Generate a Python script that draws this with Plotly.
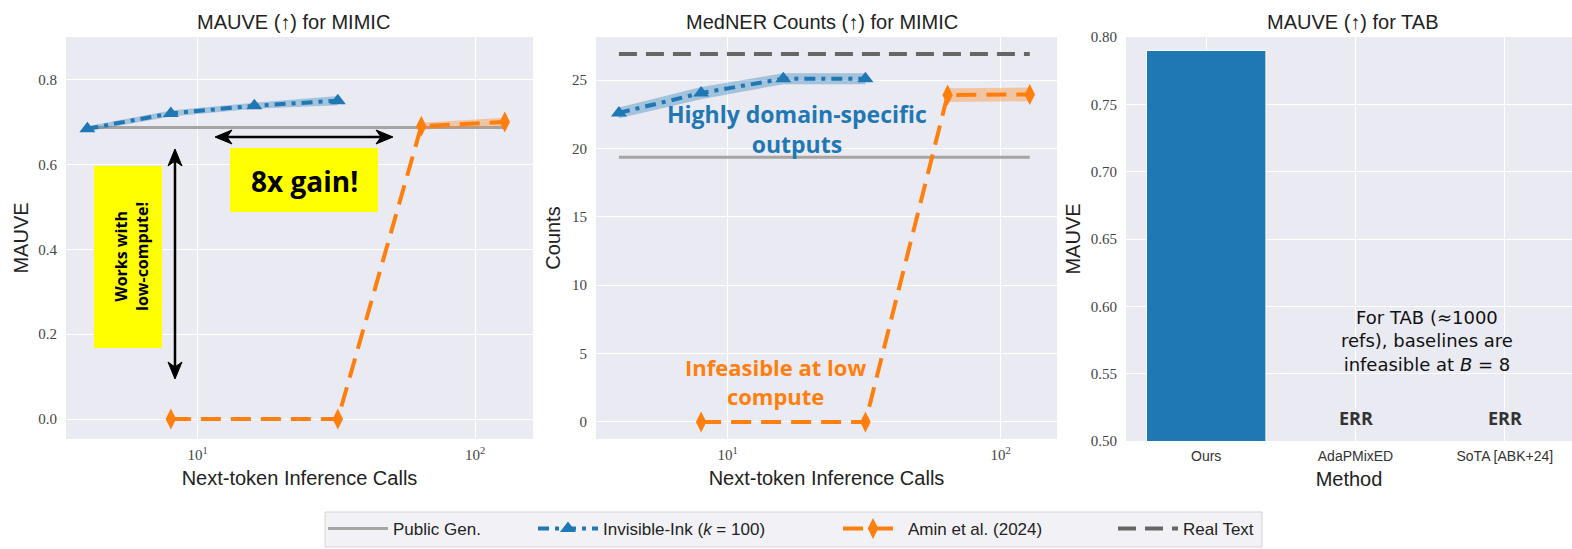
import plotly.graph_objects as go

# ---------------- data ----------------
x_inv = [4, 8, 16, 32]
x_amin = [8, 32, 64, 128]
x_public = [4, 128]

mauve_inv = [0.684, 0.720, 0.738, 0.750]
mauve_inv_lo = [0.678, 0.713, 0.731, 0.739]
mauve_inv_hi = [0.690, 0.727, 0.745, 0.761]
mauve_amin = [0.0, 0.0, 0.690, 0.700]
mauve_amin_lo = [0.0, 0.0, 0.682, 0.690]
mauve_amin_hi = [0.0, 0.0, 0.698, 0.710]
mauve_public = [0.687, 0.687]

counts_inv = [22.6, 24.05, 25.1, 25.1]
counts_inv_lo = [22.2, 23.6, 24.7, 24.7]
counts_inv_hi = [23.0, 24.5, 25.5, 25.5]
counts_amin = [0.0, 0.0, 23.9, 23.95]
counts_amin_lo = [0.0, 0.0, 23.4, 23.45]
counts_amin_hi = [0.0, 0.0, 24.4, 24.45]
counts_public = [19.35, 19.35]
counts_real = [26.9, 26.9]

tab_methods = ["Ours", "AdaPMixED", "SoTA [ABK+24]"]
tab_mauve = [0.79, None, None]

log_tickvals = [10, 100]
log_ticktext = ["10<sup>1</sup>", "10<sup>2</sup>"]

# ---------------- styles ----------------
W, H = 1572, 549
BLUE = "#1f77b4"
ORANGE = "#ff7f0e"
PUB = "#a5a5a5"
REAL = "#666666"
BG = "#eaeaf2"
SANS = "Liberation Sans, Arial, sans-serif"
SERIF = "Liberation Serif, DejaVu Serif, serif"
BOLD = "Open Sans, Inter, sans-serif"
WIDE = "DejaVu Sans, Open Sans, sans-serif"


def px(xp):
    return xp / W


def py(yp):
    return 1 - yp / H


fig = go.Figure()


def add_band(x, lo, hi, color, xa, ya):
    fig.add_trace(go.Scatter(x=x, y=hi, mode="lines", line=dict(width=0),
                             showlegend=False, hoverinfo="skip", xaxis=xa, yaxis=ya))
    fig.add_trace(go.Scatter(x=x, y=lo, mode="lines", line=dict(width=0),
                             fill="tonexty", fillcolor=color,
                             showlegend=False, hoverinfo="skip", xaxis=xa, yaxis=ya))


pub_line = dict(color=PUB, width=3)
inv_line = dict(color=BLUE, width=4, dash="11px,6px,4px,6px")
amin_line = dict(color=ORANGE, width=4, dash="20px,10px")
real_line = dict(color=REAL, width=4, dash="18px,9px")
inv_marker = dict(symbol="triangle-up", size=14, color=BLUE)
amin_marker = dict(symbol="diamond-tall", size=15, color=ORANGE)
band_blue = "rgba(31,119,180,0.35)"
band_orange = "rgba(255,127,14,0.35)"

# ---- panel 1: MAUVE for MIMIC ----
fig.add_trace(go.Scatter(x=x_public, y=mauve_public, mode="lines", line=pub_line,
                         name="Public Gen.", legend="legend", xaxis="x", yaxis="y"))
add_band(x_inv, mauve_inv_lo, mauve_inv_hi, band_blue, "x", "y")
fig.add_trace(go.Scatter(x=x_inv, y=mauve_inv, mode="lines+markers", line=inv_line,
                         marker=inv_marker, name="Invisible-Ink (<i>k</i> = 100)",
                         legend="legend2", xaxis="x", yaxis="y"))
add_band(x_amin[2:], mauve_amin_lo[2:], mauve_amin_hi[2:], band_orange, "x", "y")
fig.add_trace(go.Scatter(x=x_amin, y=mauve_amin, mode="lines+markers", line=amin_line,
                         marker=amin_marker, name="Amin et al. (2024)",
                         legend="legend3", xaxis="x", yaxis="y"))

# ---- panel 2: MedNER counts ----
fig.add_trace(go.Scatter(x=x_public, y=counts_public, mode="lines", line=pub_line,
                         showlegend=False, xaxis="x2", yaxis="y2"))
fig.add_trace(go.Scatter(x=x_public, y=counts_real, mode="lines", line=real_line,
                         name="Real Text", legend="legend4", xaxis="x2", yaxis="y2"))
add_band(x_inv, counts_inv_lo, counts_inv_hi, band_blue, "x2", "y2")
fig.add_trace(go.Scatter(x=x_inv, y=counts_inv, mode="lines+markers", line=inv_line,
                         marker=inv_marker, showlegend=False, xaxis="x2", yaxis="y2"))
add_band(x_amin[2:], counts_amin_lo[2:], counts_amin_hi[2:], band_orange, "x2", "y2")
fig.add_trace(go.Scatter(x=x_amin, y=counts_amin, mode="lines+markers", line=amin_line,
                         marker=amin_marker, showlegend=False, xaxis="x2", yaxis="y2"))

# ---- panel 3: MAUVE for TAB ----
fig.add_trace(go.Bar(x=tab_methods, y=tab_mauve, marker=dict(color=BLUE, line=dict(color="white", width=1)),
                     width=0.8, showlegend=False, xaxis="x3", yaxis="y3"))

tickfont = dict(family=SERIF, size=15, color="#444")
axtitle = dict(family=SANS, size=20, color="#222")
common = dict(showgrid=True, gridcolor="white", gridwidth=1, zeroline=False,
              showline=False, ticks="", automargin=False, tickfont=tickfont)


def leg(xstart):
    return dict(orientation="h", x=px(xstart), xanchor="left", y=py(529), yanchor="middle",
                bgcolor="rgba(0,0,0,0)", borderwidth=0,
                font=dict(family=SANS, size=17, color="#222"), itemwidth=60)


ydom = [py(439), py(37)]
fig.update_layout(
    width=W, height=H,
    margin=dict(l=0, r=0, t=0, b=0),
    paper_bgcolor="white", plot_bgcolor=BG,
    xaxis=dict(domain=[px(66), px(533)], type="log", range=[0.525, 2.209],
               tickvals=log_tickvals, ticktext=log_ticktext, anchor="y", ticklabelstandoff=5,
               title=dict(text="Next-token Inference Calls", font=axtitle, standoff=8), **common),
    yaxis=dict(domain=ydom, range=[-0.047, 0.9], tickvals=[0.0, 0.2, 0.4, 0.6, 0.8],
               tickformat=".1f", anchor="x", ticklabelstandoff=8,
               title=dict(text="MAUVE", font=axtitle, standoff=4), **common),
    xaxis2=dict(domain=[px(596), px(1057)], type="log", range=[0.518, 2.207],
                tickvals=log_tickvals, ticktext=log_ticktext, anchor="y2", ticklabelstandoff=5,
                title=dict(text="Next-token Inference Calls", font=axtitle, standoff=8), **common),
    yaxis2=dict(domain=ydom, range=[-1.25, 28.15], tickvals=[0, 5, 10, 15, 20, 25],
                anchor="x2", ticklabelstandoff=8,
                title=dict(text="Counts", font=axtitle, standoff=6), **common),
    xaxis3=dict(domain=[px(1126), 1.0], range=[-0.537, 2.45], anchor="y3",
                tickfont=dict(family=SANS, size=14, color="#333"), ticklabelstandoff=5,
                title=dict(text="Method", font=axtitle, standoff=8),
                **{k: v for k, v in common.items() if k != "tickfont"}),
    yaxis3=dict(domain=[py(441), py(37)], range=[0.5, 0.8],
                tickvals=[0.5, 0.55, 0.6, 0.65, 0.7, 0.75, 0.8], tickformat=".2f",
                anchor="x3", ticklabelstandoff=8,
                title=dict(text="MAUVE", font=axtitle, standoff=4), **common),
    legend=leg(323),
    legend2=leg(533),
    legend3=leg(838),
    legend4=leg(1113),
    showlegend=True,
)

# legend frame (one box shared by the four legend entries)
fig.add_shape(type="rect", xref="paper", yref="paper", x0=px(325), x1=px(1262),
              y0=py(547), y1=py(512), fillcolor="#f2f2f6", line=dict(color="#d4d4d8", width=1),
              layer="below")

# yellow boxes
fig.add_shape(type="rect", xref="paper", yref="paper", x0=px(94), x1=px(162),
              y0=py(348), y1=py(166), fillcolor="#ffff00", line=dict(width=0), layer="above")
fig.add_shape(type="rect", xref="paper", yref="paper", x0=px(230), x1=px(378),
              y0=py(212), y1=py(148), fillcolor="#ffff00", line=dict(width=0), layer="above")


# double-headed arrows drawn as shapes (pixel geometry -> paper)
def P(xp, yp):
    return f"{px(xp):.5f},{py(yp):.5f}"


def head(tx, ty, dx, dy, L=17, hw=7, notch=5):
    nx, ny = -dy, dx
    bx, by = tx - dx * L, ty - dy * L
    mx, my = tx - dx * (L - notch), ty - dy * (L - notch)
    return (f"M{P(tx, ty)} L{P(bx + nx * hw, by + ny * hw)} L{P(mx, my)} "
            f"L{P(bx - nx * hw, by - ny * hw)} Z")


arrow_style = dict(xref="paper", yref="paper", layer="above")
fig.add_shape(type="line", x0=px(220), x1=px(388), y0=py(137), y1=py(137),
              line=dict(color="black", width=2.5), **arrow_style)
fig.add_shape(type="path", path=head(215, 137, -1, 0), fillcolor="black",
              line=dict(color="black", width=1), **arrow_style)
fig.add_shape(type="path", path=head(393, 137, 1, 0), fillcolor="black",
              line=dict(color="black", width=1), **arrow_style)
fig.add_shape(type="line", x0=px(175), x1=px(175), y0=py(154), y1=py(374),
              line=dict(color="black", width=2.5), **arrow_style)
fig.add_shape(type="path", path=head(175, 149, 0, -1), fillcolor="black",
              line=dict(color="black", width=1), **arrow_style)
fig.add_shape(type="path", path=head(175, 379, 0, 1), fillcolor="black",
              line=dict(color="black", width=1), **arrow_style)

ann = []
titles = [("MAUVE (↑) for MIMIC", 293), ("MedNER Counts (↑) for MIMIC", 822), ("MAUVE (↑) for TAB", 1353)]
for t, xc in titles:
    ann.append(dict(text=t, x=px(xc), y=py(22), font=dict(family=SANS, size=20, color="#222")))

ann += [
    dict(text="<b>8x gain!</b>", x=px(304), y=py(181),
         font=dict(family=BOLD, size=28, color="black")),
    dict(text="<b>Works with<br>low-compute!</b>", x=px(132), y=py(257),
         textangle=-90, font=dict(family=BOLD, size=16, color="black")),
    dict(text="<b>Highly domain-specific<br>outputs</b>", x=px(797), y=py(129),
         font=dict(family=BOLD, size=23, color=BLUE)),
    dict(text="<b>Infeasible at low<br>compute</b>", x=px(775), y=py(381),
         font=dict(family=BOLD, size=22, color=ORANGE)),
    dict(text="For TAB (≈1000<br>refs), baselines are<br>infeasible at <i>B</i> = 8",
         x=px(1427), y=py(341), font=dict(family=WIDE, size=18, color="#111")),
]
for a in ann:
    a.update(xref="paper", yref="paper", showarrow=False, xanchor="center", yanchor="middle")
ann += [
    dict(text="<b>ERR</b>", x="AdaPMixED", y=0.517, xref="x3", yref="y3", showarrow=False,
         xanchor="center", yanchor="middle", font=dict(family=BOLD, size=18, color="#333")),
    dict(text="<b>ERR</b>", x="SoTA [ABK+24]", y=0.517, xref="x3", yref="y3", showarrow=False,
         xanchor="center", yanchor="middle", font=dict(family=BOLD, size=18, color="#333")),
]
fig.update_layout(annotations=ann)

fig.write_html("out.html", config={"displayModeBar": False},
               post_script="document.body.style.margin='0';document.body.style.padding='0';")
